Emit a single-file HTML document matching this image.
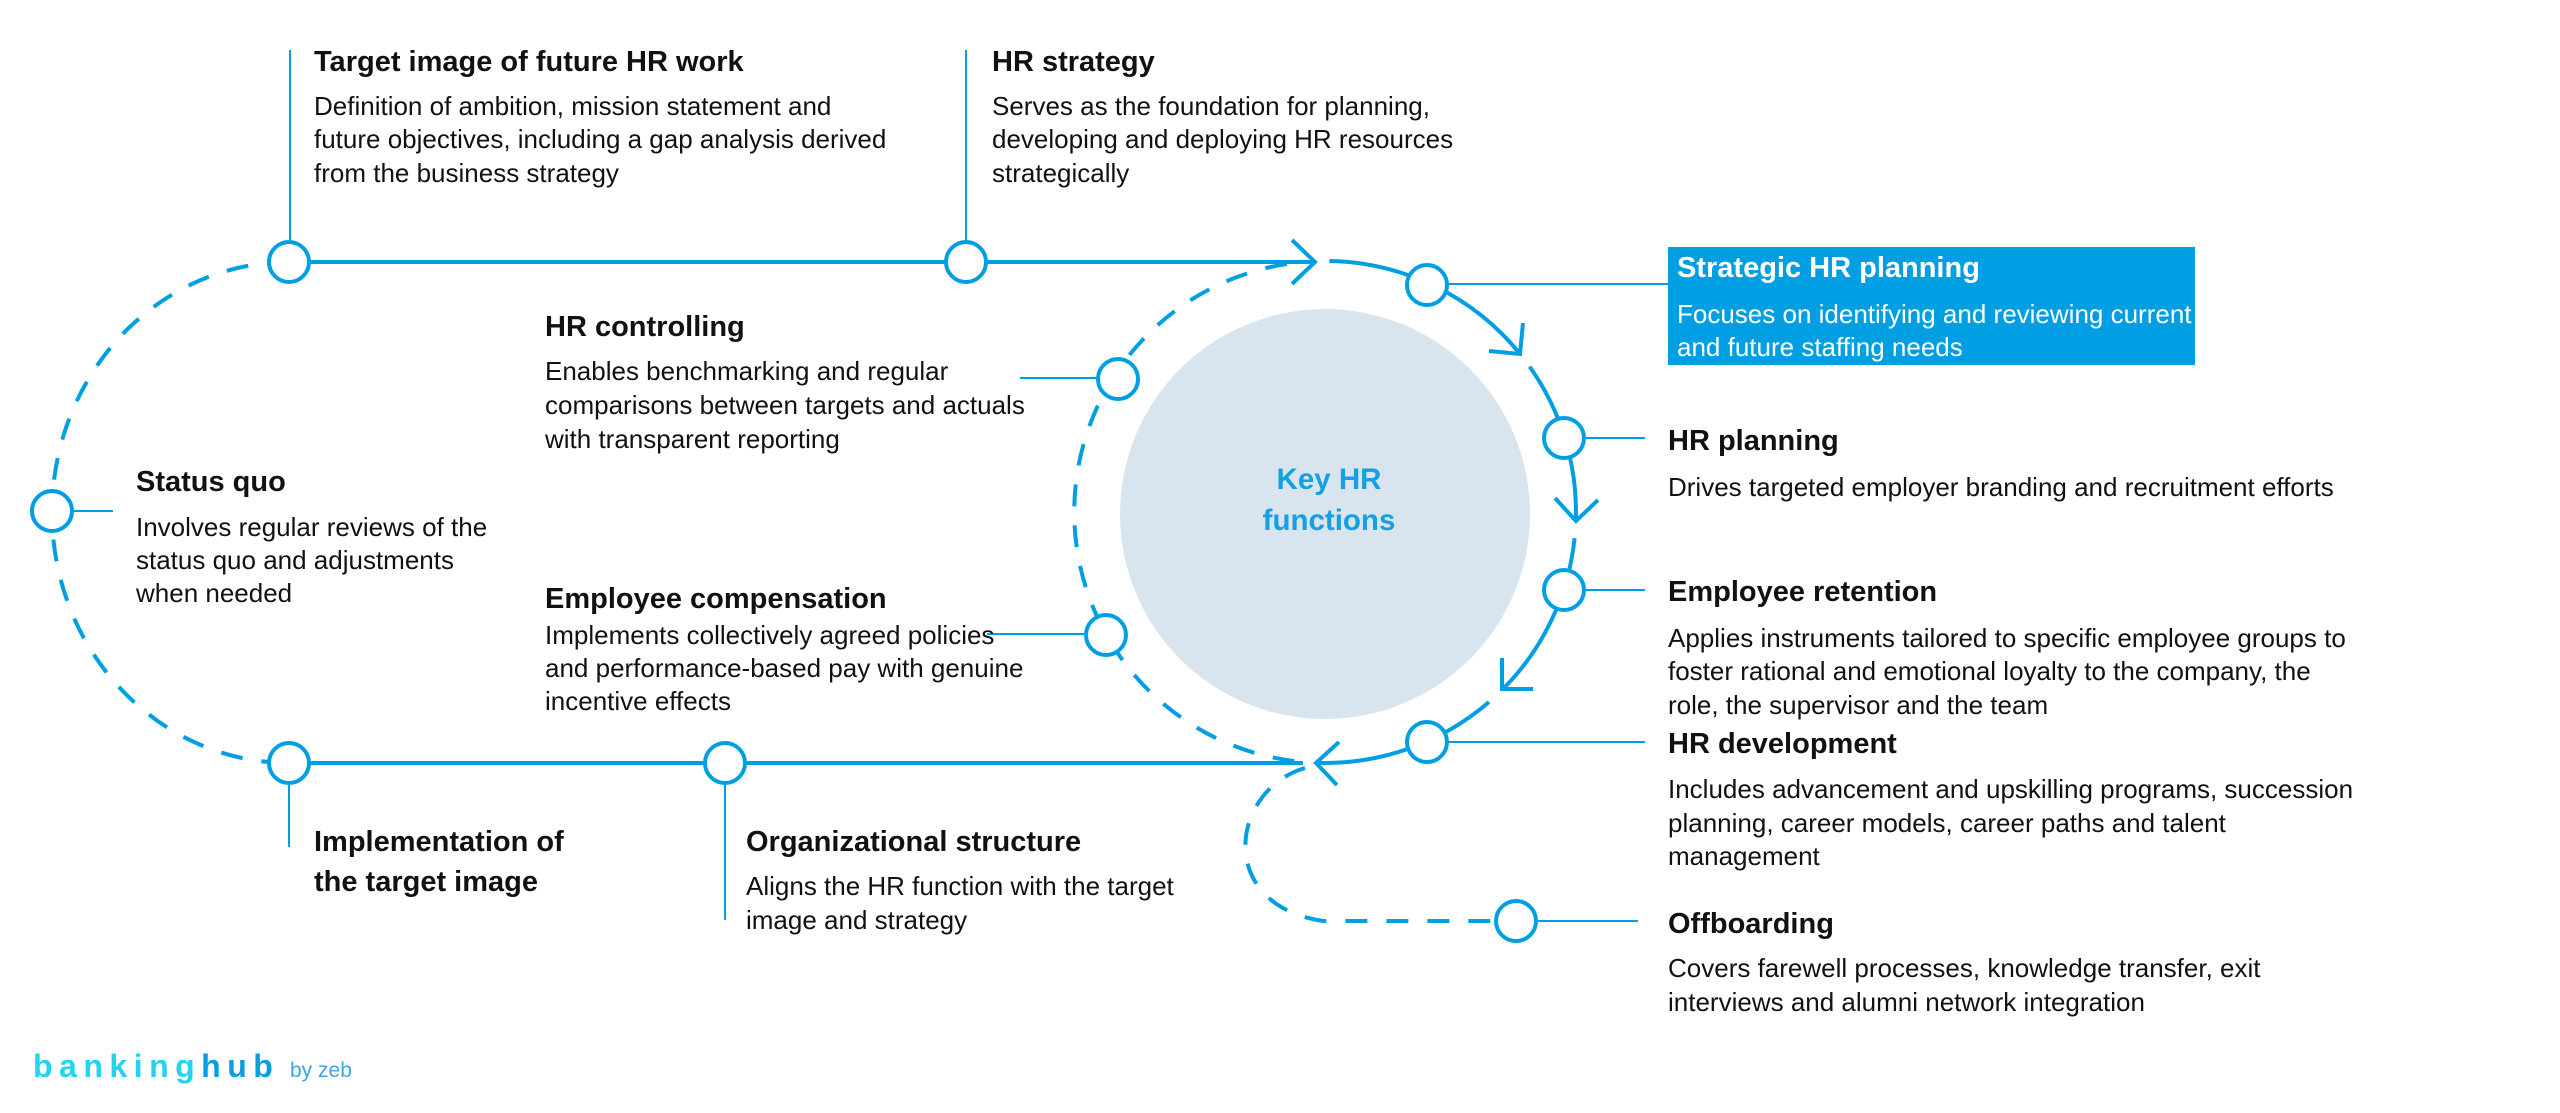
<!DOCTYPE html>
<html>
<head>
<meta charset="utf-8">
<style>
html,body{margin:0;padding:0;background:#fff;width:2560px;height:1113px;overflow:hidden}
svg{display:block}
.t{font-family:"Liberation Sans",Arial,sans-serif;font-weight:bold;font-size:29px;fill:#111}
.b{font-family:"Liberation Sans",Arial,sans-serif;font-size:26px;fill:#111}
</style>
</head>
<body>
<svg width="2560" height="1113" viewBox="0 0 2560 1113" xmlns="http://www.w3.org/2000/svg">
  <!-- central disc -->
  <circle cx="1325" cy="514" r="205" fill="#d9e5ee"/>
  <text x="1329" y="489" text-anchor="middle" font-family="Liberation Sans,Arial,sans-serif" font-weight="bold" font-size="29.5" fill="#14a0e2">Key HR</text>
  <text x="1329" y="530" text-anchor="middle" font-family="Liberation Sans,Arial,sans-serif" font-weight="bold" font-size="29.5" fill="#14a0e2">functions</text>

  <g fill="none" stroke="#009fe3" stroke-linecap="butt">
    <!-- thin connectors -->
    <g stroke-width="2">
      <line x1="290" y1="50" x2="290" y2="242"/>
      <line x1="966" y1="50" x2="966" y2="242"/>
      <line x1="72" y1="511" x2="113" y2="511"/>
      <line x1="1020" y1="378" x2="1098" y2="378"/>
      <line x1="987" y1="634" x2="1086" y2="634"/>
      <line x1="289" y1="783" x2="289" y2="847"/>
      <line x1="725" y1="783" x2="725" y2="920"/>
      <line x1="1447" y1="284" x2="1668" y2="284"/>
      <line x1="1584" y1="438" x2="1645" y2="438"/>
      <line x1="1584" y1="590" x2="1645" y2="590"/>
      <line x1="1447" y1="742" x2="1645" y2="742"/>
      <line x1="1536" y1="921" x2="1638" y2="921"/>
    </g>
    <!-- thick main lines -->
    <g stroke-width="4">
      <line x1="289" y1="262" x2="1312" y2="262"/>
      <line x1="289" y1="763" x2="1303" y2="763"/>
    </g>
    <!-- dashed paths -->
    <g stroke-width="4" stroke-dasharray="22 19">
      <path d="M 289 262 A 237 250.5 0 0 0 289 763"/>
      <path d="M 1294.4 761.1 A 251 251 0 0 1 1294.4 262.9"/>
      <path d="M 1305 768 C 1230 790, 1215 905, 1323 921 L 1496 921"/>
    </g>
    <!-- solid ring arcs -->
    <g stroke-width="4">
      <path d="M 1329.4 261 A 251 251 0 0 1 1520.1 354"/>
      <path d="M 1529.6 366.6 A 251 251 0 0 1 1575.8 520.8"/>
      <path d="M 1574.6 538.2 A 251 251 0 0 1 1502.5 689.5"/>
      <path d="M 1489 702 A 251 251 0 0 1 1316.2 762.8"/>
    </g>
    <!-- arrowheads -->
    <g stroke-width="4" stroke-linejoin="miter">
      <polyline points="1292,240 1315,262 1292,284"/>
      <polyline points="1523,323 1520,354 1489,351"/>
      <polyline points="1555,498 1576,521 1598,500"/>
      <polyline points="1502,658 1502,689 1533,689"/>
      <polyline points="1339,742 1316,763 1337,785"/>
    </g>
  </g>

  <!-- node circles -->
  <g fill="#fff" stroke="#009fe3" stroke-width="4">
    <circle cx="289" cy="262" r="20"/>
    <circle cx="966" cy="262" r="20"/>
    <circle cx="52" cy="511" r="20"/>
    <circle cx="289" cy="763" r="20"/>
    <circle cx="725" cy="763" r="20"/>
    <circle cx="1118" cy="379" r="20"/>
    <circle cx="1106" cy="635" r="20"/>
    <circle cx="1427" cy="285" r="20"/>
    <circle cx="1564" cy="438" r="20"/>
    <circle cx="1564" cy="590" r="20"/>
    <circle cx="1427" cy="742" r="20"/>
    <circle cx="1516" cy="921" r="20"/>
  </g>

  <!-- Strategic HR planning box -->
  <rect x="1668" y="247" width="527" height="118" fill="#009fe3"/>

  <!-- Top texts -->
  <text class="t" x="314" y="71">Target image of future HR work</text>
  <text class="b" x="314" y="115">Definition of ambition, mission statement and</text>
  <text class="b" x="314" y="148">future objectives, including a gap analysis derived</text>
  <text class="b" x="314" y="182">from the business strategy</text>

  <text class="t" x="992" y="71">HR strategy</text>
  <text class="b" x="992" y="115">Serves as the foundation for planning,</text>
  <text class="b" x="992" y="148">developing and deploying HR resources</text>
  <text class="b" x="992" y="182">strategically</text>

  <text class="t" x="545" y="336">HR controlling</text>
  <text class="b" x="545" y="380">Enables benchmarking and regular</text>
  <text class="b" x="545" y="414">comparisons between targets and actuals</text>
  <text class="b" x="545" y="448">with transparent reporting</text>

  <text class="t" x="136" y="491">Status quo</text>
  <text class="b" x="136" y="536">Involves regular reviews of the</text>
  <text class="b" x="136" y="569">status quo and adjustments</text>
  <text class="b" x="136" y="602">when needed</text>

  <text class="t" x="545" y="608">Employee compensation</text>
  <text class="b" x="545" y="644">Implements collectively agreed policies</text>
  <text class="b" x="545" y="677">and performance-based pay with genuine</text>
  <text class="b" x="545" y="710">incentive effects</text>

  <text class="t" x="314" y="851">Implementation of</text>
  <text class="t" x="314" y="891">the target image</text>

  <text class="t" x="746" y="851">Organizational structure</text>
  <text class="b" x="746" y="895">Aligns the HR function with the target</text>
  <text class="b" x="746" y="929">image and strategy</text>

  <!-- Right texts -->
  <text class="t" x="1677" y="277" style="fill:#fff">Strategic HR planning</text>
  <text class="b" x="1677" y="323" style="fill:#fff">Focuses on identifying and reviewing current</text>
  <text class="b" x="1677" y="356" style="fill:#fff">and future staffing needs</text>

  <text class="t" x="1668" y="450">HR planning</text>
  <text class="b" x="1668" y="496">Drives targeted employer branding and recruitment efforts</text>

  <text class="t" x="1668" y="601">Employee retention</text>
  <text class="b" x="1668" y="647">Applies instruments tailored to specific employee groups to</text>
  <text class="b" x="1668" y="680">foster rational and emotional loyalty to the company, the</text>
  <text class="b" x="1668" y="714">role, the supervisor and the team</text>

  <text class="t" x="1668" y="753">HR development</text>
  <text class="b" x="1668" y="798">Includes advancement and upskilling programs, succession</text>
  <text class="b" x="1668" y="832">planning, career models, career paths and talent</text>
  <text class="b" x="1668" y="865">management</text>

  <text class="t" x="1668" y="933">Offboarding</text>
  <text class="b" x="1668" y="977">Covers farewell processes, knowledge transfer, exit</text>
  <text class="b" x="1668" y="1011">interviews and alumni network integration</text>

  <!-- logo -->
  <text x="33" y="1077" font-family="Liberation Sans,Arial,sans-serif" font-weight="bold" font-size="32" letter-spacing="6.5" fill="#22d4ef">banking<tspan fill="#0a9de0">hub</tspan></text>
  <text x="290" y="1077" font-family="Liberation Sans,Arial,sans-serif" font-size="21" fill="#3ba6e0">by zeb</text>
</svg>
</body>
</html>
